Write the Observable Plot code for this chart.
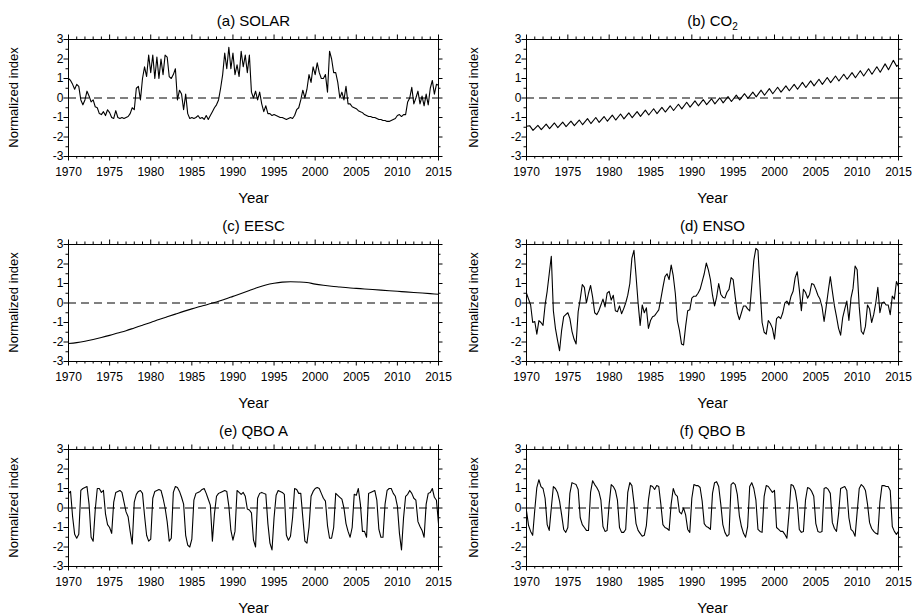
<!DOCTYPE html>
<html><head><meta charset="utf-8">
<script src="https://cdn.jsdelivr.net/npm/d3@7"></script>
<script src="https://cdn.jsdelivr.net/npm/@observablehq/plot@0.6"></script>
<style>
html,body{margin:0;padding:0;background:#fff;overflow:hidden}
#root{position:relative;width:912px;height:614px;overflow:hidden;background:#fff}
#root svg{position:absolute}
</style></head><body><div id="root"></div>
<script>
// ---- tick labels ----
const xMajorTicks = [1970, 1975, 1980, 1985, 1990, 1995, 2000, 2005, 2010, 2015];
const xMinorTicks = [1971,1972,1973,1974,1976,1977,1978,1979,1981,1982,1983,1984,1986,1987,1988,1989,1991,1992,1993,1994,1996,1997,1998,1999,2001,2002,2003,2004,2006,2007,2008,2009,2011,2012,2013,2014];
const yMajorTicks = [-3, -2, -1, 0, 1, 2, 3];
const yMinorTicks = [-2.5, -1.5, -0.5, 0.5, 1.5, 2.5];
const panelTitles = ["(a) SOLAR", "(b) CO2", "(c) EESC", "(d) ENSO", "(e) QBO A", "(f) QBO B"];

// ---- series (quarterly samples from 1970.00 to 2015.00) ----
const solarValues = [
 1.0,0.9,0.7,0.45, 0.7,0.6,-0.1,-0.35, -0.1,0.35,0.1,-0.2, -0.1,-0.45,-0.5,-0.8, -0.85,-0.7,-0.9,-0.6,
 -0.75,-1.0,-1.05,-0.65, -1.0,-1.05,-1.0,-1.05, -1.0,-0.95,-0.8,-0.5, -0.6,0.5,0.6,-0.1, 1.0,1.6,1.1,2.2,
 1.3,2.2,1.0,2.1, 1.0,2.0,1.2,2.2, 2.1,1.1,1.0,1.2, 1.5,-0.1,0.4,0.2, -0.6,0.2,-0.8,-1.05,
 -1.0,-1.05,-1.0,-0.9, -1.05,-1.0,-1.1,-0.9, -1.1,-0.9,-0.7,-0.5, -0.35,-0.1,0.5,1.2, 2.3,1.5,2.6,1.5,
 2.3,1.2,1.7,1.1, 2.4,1.6,2.2,1.3, 2.2,0.3,0.0,0.35, -0.1,0.3,-0.3,-0.7, -0.4,-0.8,-0.8,-0.9,
 -0.85,-0.9,-0.95,-1.0, -1.0,-1.05,-1.1,-1.05, -1.0,-1.05,-0.9,-0.6, -0.5,-0.1,0.4,0.0, 0.45,1.2,0.8,1.6,
 1.2,1.8,1.3,1.0, 1.0,1.2,0.3,2.4, 2.0,1.3,1.3,0.8, 0.0,0.3,-0.1,0.6, -0.3,-0.3,-0.45,-0.5,
 -0.55,-0.65,-0.7,-0.75, -0.85,-0.9,-0.95,-0.95, -1.0,-1.0,-1.05,-1.1, -1.1,-1.15,-1.15,-1.2, -1.2,-1.15,-1.1,-1.05,
 -0.9,-0.85,-0.95,-0.85, -0.85,-0.2,0.0,0.55, -0.3,0.0,0.35,-0.3, 0.1,-0.4,0.2,-0.35, 0.5,0.9,0.2,0.7,
 0.65
];
const ensoValues = [
 0.5,0.2,-0.1,-1.0, -0.95,-1.6,-0.9,-1.0, -1.15,-0.1,0.6,1.5, 2.4,-0.4,-1.3,-1.9, -2.45,-1.4,-0.7,-0.6,
 -0.5,-0.8,-1.45,-1.85, -2.1,-0.45,0.2,0.95, 0.8,0.0,0.5,0.9, 0.3,-0.5,-0.6,-0.4, -0.1,0.2,-0.2,0.5,
 0.6,0.15,0.4,-0.4, -0.45,-0.15,-0.55,-0.3, 0.0,0.4,1.0,2.3, 2.7,1.4,0.0,-1.15, -0.1,-0.5,-0.25,-1.3,
 -0.9,-0.7,-0.65,-0.5, -0.35,0.2,0.8,1.35, 1.5,1.2,1.95,1.4, 0.5,-0.9,-1.4,-2.1, -2.15,-1.2,-0.4,-0.35,
 0.25,0.35,0.35,0.5, 0.7,1.1,1.5,2.05, 1.7,1.2,0.4,-0.15, 0.3,1.0,0.45,0.3, 0.25,0.55,0.7,1.3,
 1.2,0.3,-0.5,-0.85, -0.5,-0.15,-0.15,-0.3, -0.4,0.9,2.2,2.8, 2.7,0.8,-1.0,-1.5, -1.6,-0.9,-1.05,-1.3,
 -1.85,-0.8,-0.7,-0.8, -0.5,0.0,0.1,-0.1, 0.35,0.6,1.3,1.6, 0.7,-0.4,0.7,0.55, 0.25,0.45,1.0,0.95,
 0.7,0.4,0.2,-0.2, -0.95,-0.2,0.6,1.35, 0.6,-0.15,-0.7,-1.3, -1.65,-0.75,-0.3,0.1, -0.9,0.25,0.75,1.9,
 1.7,-0.2,-1.45,-1.6, -1.2,-0.1,-0.3,-1.0, -0.6,0.0,0.8,-0.5, 0.0,0.05,-0.1,-0.1, -0.6,0.35,0.2,1.1,
 0.85
];
const qboAValues = [
 0.75,0.85,-0.45,-1.35, -1.55,-1.35,0.9,1.0, 1.05,1.1,0.2,-1.5, -1.7,-0.1,1.0,1.0, 0.8,0.9,-0.3,-0.85,
 -1.0,-1.3,0.3,0.8, 0.85,0.9,0.8,0.3, -0.2,-0.45,-1.2,-1.85, 0.3,0.7,0.85,0.9, 0.75,-0.4,-1.4,-1.7,
 -1.6,0.5,0.85,0.9, 0.95,0.9,0.5,0.0, -0.7,-1.7,-1.55,0.8, 1.1,1.05,0.85,0.55, 0.2,-1.4,-1.9,-2.0,
 -1.6,0.4,0.75,0.8, 0.85,0.95,1.0,0.75, 0.45,0.15,-1.7,-0.3, 0.6,0.75,0.8,0.85, 0.9,0.85,0.1,-1.15,
 -1.65,-1.2,0.9,0.8, 0.7,0.8,0.6,-0.05, -0.1,-0.25,-1.65,-2.0, 0.5,0.75,0.8,0.75, 0.7,-0.8,-1.8,-2.15,
 -0.5,0.65,0.9,0.85, 0.8,0.7,-1.4,-1.65, -1.45,-0.5,1.0,0.95, 0.75,0.75,-0.5,-1.7, -1.8,-1.0,0.6,0.85,
 1.0,1.05,1.0,0.75, 0.5,0.35,-0.9,-1.55, -1.55,-1.0,0.75,0.65, 0.55,0.45,0.0,-0.8, -1.2,-1.5,-1.0,0.7,
 0.65,1.0,0.2,-1.2, -1.2,-1.5,0.75,0.8, 0.85,0.9,0.4,-1.1, -1.5,-1.5,0.2,0.9, 1.0,1.0,0.75,0.6,
 0.1,-1.3,-2.15,-0.5, 0.6,0.7,0.9,0.75, 0.5,0.4,-0.7,-0.95, -1.15,-1.5,0.2,0.75, 0.8,1.0,0.55,0.4,
 -0.8
];
const qboBValues = [
 -0.15,-0.9,-1.2,-1.4, -0.1,1.05,1.45,1.1, 1.0,0.5,-0.85,-1.15, 0.0,1.1,1.0,0.8, 0.35,-0.35,-1.1,-1.25,
 -1.0,0.75,1.3,1.25, 1.2,0.95,-0.5,-0.85, -1.0,-1.15,-1.15,0.8, 1.4,1.2,1.05,0.85, 0.4,-0.95,-1.2,-1.15,
 0.2,1.2,1.1,0.9, 0.4,-1.0,-1.25,-1.25, -1.1,0.8,1.3,1.15, 0.25,-0.8,-1.15,-1.3, -1.45,-1.4,-0.9,0.4,
 1.15,1.1,0.95,1.15, 1.1,0.2,-0.85,-1.0, -1.05,-1.15,0.2,1.0, 0.7,0.6,-0.2,-0.3, 0.0,-0.35,-1.1,-1.25,
 0.5,1.2,1.15,1.15, 1.05,0.35,-0.8,-0.95, -1.0,-1.1,0.75,1.3, 1.35,1.1,0.2,-0.85, -1.25,-1.45,-1.35,1.2,
 1.3,1.2,0.7,-0.4, -0.95,-1.3,-1.5,-0.95, 1.1,1.3,1.0,0.4, -1.1,-1.2,-1.25,0.6, 1.15,1.1,0.95,0.8,
 0.9,-1.0,-1.1,-1.2, -1.2,-1.35,-1.55,-0.3, 1.2,1.15,0.9,0.25, -1.1,-1.25,-1.2,0.4, 1.05,1.0,0.85,0.6,
 -0.8,-1.2,-1.25,-1.2, 1.0,1.05,0.95,0.75, -0.75,-1.05,-1.2,-0.3, 1.0,1.05,1.1,0.9, -0.5,-1.1,-1.2,-1.45,
 -0.2,1.0,1.2,1.1, 0.9,0.2,-0.75,-1.05, -1.2,-1.3,-1.35,0.3, 1.15,1.15,1.1,1.1, 0.9,-0.95,-1.2,-1.35,
 -1.2
];
// EESC: yearly values 1970..2015
const eescValues = [
 -2.08,-2.03,-1.96,-1.87,-1.77,-1.66,-1.54,-1.42,-1.28,-1.14,
 -1.00,-0.85,-0.71,-0.57,-0.43,-0.30,-0.18,-0.06,0.05,0.19,
 0.34,0.49,0.64,0.79,0.92,1.01,1.07,1.09,1.08,1.05,
 0.97,0.91,0.86,0.82,0.78,0.75,0.72,0.69,0.66,0.63,
 0.60,0.57,0.54,0.51,0.48,0.45
];
// CO2: yearly seasonal maxima (late spring) and minima (autumn), 1970..2014, plus start/end values
const co2Peaks = [
 -1.42,-1.40,-1.34,-1.28,-1.24, -1.19,-1.13,-1.06,-1.00,-0.95,
 -0.88,-0.82,-0.76,-0.70,-0.62, -0.55,-0.48,-0.40,-0.32,-0.22,
 -0.15,-0.08,-0.04,0.01,0.07, 0.15,0.22,0.30,0.40,0.48,
 0.55,0.62,0.70,0.80,0.88, 0.96,1.05,1.13,1.22,1.30,
 1.40,1.50,1.60,1.75,1.93
];
const co2Troughs = [
 -1.66,-1.62,-1.57,-1.52,-1.47, -1.42,-1.37,-1.31,-1.25,-1.19,
 -1.13,-1.07,-1.01,-0.94,-0.87, -0.80,-0.72,-0.64,-0.56,-0.47,
 -0.40,-0.34,-0.30,-0.25,-0.18, -0.10,-0.02,0.06,0.14,0.22,
 0.30,0.37,0.45,0.54,0.62, 0.70,0.79,0.87,0.96,1.04,
 1.13,1.22,1.32,1.45,1.62
];
const co2Ends = [-1.45, 1.70];

// ---- build tables ----
const quarterly = vals => vals.map((v, i) => ({t: 1970 + i / 4, v}));
const yearly = vals => vals.map((v, i) => ({t: 1970 + i, v}));
const co2Data = [{t: 1970, v: co2Ends[0]}];
co2Peaks.forEach((p, i) => {
  co2Data.push({t: 1970 + i + 0.38, v: p});
  co2Data.push({t: 1970 + i + 0.79, v: co2Troughs[i]});
});
co2Data.push({t: 2015, v: co2Ends[1]});

const FONT = "'Liberation Sans', Arial, Helvetica, sans-serif";
const FH = 117;
const MT = 39;
const root = document.getElementById("root");

function panel(title, data, col, row, curve = "linear") {
  const ml = col === 0 ? 68 : 70;
  const fw = col === 0 ? 370 : 372;
  const mr = 456 - ml - fw;
  const labelX = col === 0 ? 18 : 22;
  const maj = 4.5, mnr = 2.5;
  const svg = Plot.plot({
    width: 456, height: 205,
    marginLeft: ml, marginRight: mr, marginTop: MT, marginBottom: 205 - MT - FH,
    style: {fontFamily: FONT, fontSize: "12px", color: "#000", background: "transparent", overflow: "visible"},
    x: {domain: [1970, 2015]},
    y: {domain: [-3, 3]},
    marks: [
      Plot.ruleY([0], {stroke: "#000", strokeWidth: 1, strokeDasharray: "8,5"}),
      Plot.line(data, {x: "t", y: "v", stroke: "#000", strokeWidth: 1.1, curve}),
      Plot.frame({stroke: "#000", strokeWidth: 1}),
      // outward ticks on all four sides
      Plot.tickX(xMajorTicks, {x: d => d, insetTop: FH, insetBottom: -maj}),
      Plot.tickX(xMinorTicks, {x: d => d, insetTop: FH, insetBottom: -mnr}),
      Plot.tickX(xMajorTicks, {x: d => d, insetBottom: FH, insetTop: -maj}),
      Plot.tickX(xMinorTicks, {x: d => d, insetBottom: FH, insetTop: -mnr}),
      Plot.tickY(yMajorTicks, {y: d => d, insetRight: fw, insetLeft: -maj}),
      Plot.tickY(yMinorTicks, {y: d => d, insetRight: fw, insetLeft: -mnr}),
      Plot.tickY(yMajorTicks, {y: d => d, insetLeft: fw, insetRight: -maj}),
      Plot.tickY(yMinorTicks, {y: d => d, insetLeft: fw, insetRight: -mnr}),
      Plot.axisX(xMajorTicks, {anchor: "bottom", tickSize: 0, tickPadding: 11, tickFormat: d => String(d), label: null}),
      Plot.axisY(yMajorTicks, {anchor: "left", tickSize: 0, tickPadding: 5, tickFormat: d => String(d), label: null}),
      Plot.text([title], {text: d => d, frameAnchor: "top", dy: -14, lineAnchor: "bottom", fontSize: 15}),
      Plot.text(["Year"], {text: d => d, frameAnchor: "bottom", dy: 46, lineAnchor: "bottom", fontSize: 15}),
      Plot.text(["Normalized index"], {text: d => d, frameAnchor: "left", rotate: -90, fontSize: 13})
    ]
  });
  svg.style.left = (col * 456) + "px";
  svg.style.top = (row * 205) + "px";
  svg.querySelectorAll("text").forEach(t => {
    if (t.textContent === "(b) CO2") {
      // CO2 subscript
      t.textContent = "(b) CO";
      const ts = document.createElementNS("http://www.w3.org/2000/svg", "tspan");
      ts.setAttribute("font-size", "10");
      ts.setAttribute("dy", "4");
      ts.textContent = "2";
      t.appendChild(ts);
    } else if (t.textContent === "Normalized index") {
      // place the rotated y title left of the tick labels, centred on the frame
      t.setAttribute("transform", `translate(${labelX},${MT + FH / 2}) rotate(-90)`);
      t.setAttribute("text-anchor", "middle");
      t.removeAttribute("x"); t.removeAttribute("y");
      if (t.parentNode && t.parentNode.tagName === "g") t.parentNode.removeAttribute("transform");
    }
  });
  root.appendChild(svg);
}

panel(panelTitles[0], quarterly(solarValues), 0, 0);
panel(panelTitles[1], co2Data, 1, 0);
panel(panelTitles[2], yearly(eescValues), 0, 1, "monotone-x");
panel(panelTitles[3], quarterly(ensoValues), 1, 1);
panel(panelTitles[4], quarterly(qboAValues), 0, 2);
panel(panelTitles[5], quarterly(qboBValues), 1, 2);
</script></body></html>
